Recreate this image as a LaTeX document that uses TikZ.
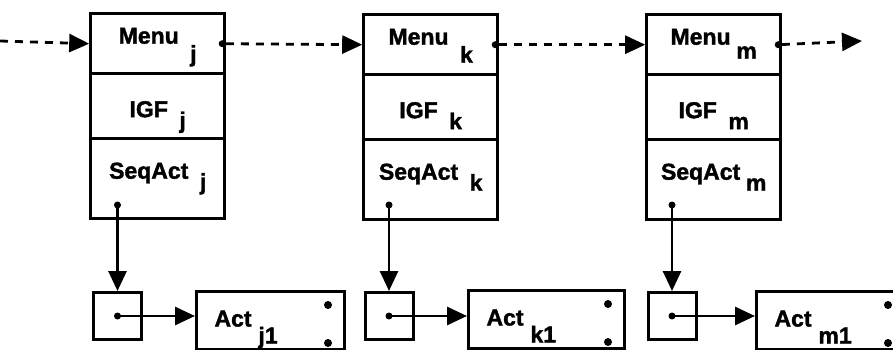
\documentclass[tikz,border=0pt]{standalone}
\usepackage{fontspec}
\setmainfont{Liberation Sans}[BoldFeatures={FakeBold=1.6}]
\usetikzlibrary{matrix,positioning,arrows.meta}

\newcommand{\idx}[3][0.5em]{\hspace{#1}\raisebox{-#2}{#3}}

\begin{document}
\begin{tikzpicture}[x=1pt, y=-1pt,
font=\fontsize{23}{26}\selectfont\bfseries, record/.style={
    matrix of nodes, inner sep=0pt, anchor=north west,
    nodes={draw=black, line width=3pt, minimum width=134pt, anchor=center},
    row sep=-3pt,
    row 1/.style={nodes={minimum height=60pt, text height=21pt, text depth=21pt}},
    row 2/.style={nodes={minimum height=65pt, text height=32pt, text depth=10pt}},
    row 3/.style={nodes={minimum height=80pt, text height=21pt, text depth=21pt}},
},
actbox/.style={draw=black, line width=3pt, anchor=north west, minimum height=58pt,
    text width=112pt, inner xsep=18pt, inner ysep=2pt, align=left,
    text height=32pt, text depth=20pt},
ptrbox/.style={draw=black, line width=3pt, minimum width=48pt, minimum height=47pt, inner sep=0pt},
pdot/.style={circle, fill=black, inner sep=0pt, minimum size=7pt},
link/.style={line width=2.8pt, -{Triangle[length=20pt,width=18pt]}},
next/.style={link, dash pattern=on 8pt off 7pt},
]
\useasboundingbox (0,0) rectangle (893,350);
\clip (0,0) rectangle (893,350);

\matrix[record] (recj) at (89,12) {
  Menu\idx{18pt}{j} \\
  IGF\idx{11pt}{j} \\
  SeqAct\idx{11pt}{j} \\
};
\matrix[record] (reck) at (362,13) {
  Menu\idx{18pt}{k} \\
  IGF\idx{11pt}{k} \\
  SeqAct\idx{11pt}{k} \\
};
\matrix[record] (recm) at (645,13) {
  Menu\idx[0.25em]{14pt}{m} \\
  IGF\idx{11pt}{m} \\
  SeqAct\idx[0.25em]{11pt}{m} \\
};

% pointer cells
\node[ptrbox] (ptrj) at (117.5,316) {};
\node[ptrbox] (ptrk) at (389,316) {};
\node[ptrbox] (ptrm) at (672,316) {};

\node[actbox] (actj) at (195,290) {Act\idx[0.3em]{17pt}{j1}};
\node[actbox, text width=120pt] (actk) at (467,289) {Act\idx[0.3em]{17pt}{k1}};
\node[actbox] (actm) at (755,290) {Act\idx[0.3em]{17pt}{m1}};

\node[pdot, minimum size=8pt] (aj1) at ([xshift=-18pt,yshift=-15pt]actj.north east) {};
\node[pdot, minimum size=8pt] (aj2) at ([xshift=-18pt,yshift=8pt]actj.south east) {};
\node[pdot, minimum size=8pt] (ak1) at ([xshift=-18pt,yshift=-15pt]actk.north east) {};
\node[pdot, minimum size=8pt] (ak2) at ([xshift=-18pt,yshift=8pt]actk.south east) {};
\node[pdot, minimum size=8pt] (am1) at ([xshift=-18pt,yshift=-15pt]actm.north east) {};
\node[pdot, minimum size=8pt] (am2) at ([xshift=-18pt,yshift=8pt]actm.south east) {};

% dots where the pointers start
\node[pdot] (nj) at ([xshift=-4pt]recj-1-1.east) {};
\node[pdot] (nk) at ([xshift=-4pt]reck-1-1.east) {};
\node[pdot] (nm) at ([xshift=-4pt]recm-1-1.east) {};
\node[pdot] (sj) at (ptrj |- 0,205) {};
\node[pdot] (sk) at (ptrk |- 0,205) {};
\node[pdot] (sm) at (ptrm |- 0,205) {};
\node[pdot] (pj) at (ptrj) {};
\node[pdot] (pk) at (ptrk) {};
\node[pdot] (pm) at (ptrm) {};

\coordinate (prevj) at (0,41);
\coordinate (nextm) at (862,41);

\draw[next] (prevj) -- (recj-1-1.west);
\draw[next] (nj) -- (reck-1-1.west);
\draw[next] (nk) -- (recm-1-1.west);
\draw[next] (nm) -- (nextm);

\draw[link] (sj.center) -- (ptrj.north);
\draw[link] (sk.center) -- (ptrk.north);
\draw[link] (sm.center) -- (ptrm.north);
\draw[link] (pj.center) -- (actj.west |- pj);
\draw[link] (pk.center) -- (actk.west |- pk);
\draw[link] (pm.center) -- (actm.west |- pm);
%\draw (recj-3-1) -- (ptrj);

\end{tikzpicture}
\end{document}
